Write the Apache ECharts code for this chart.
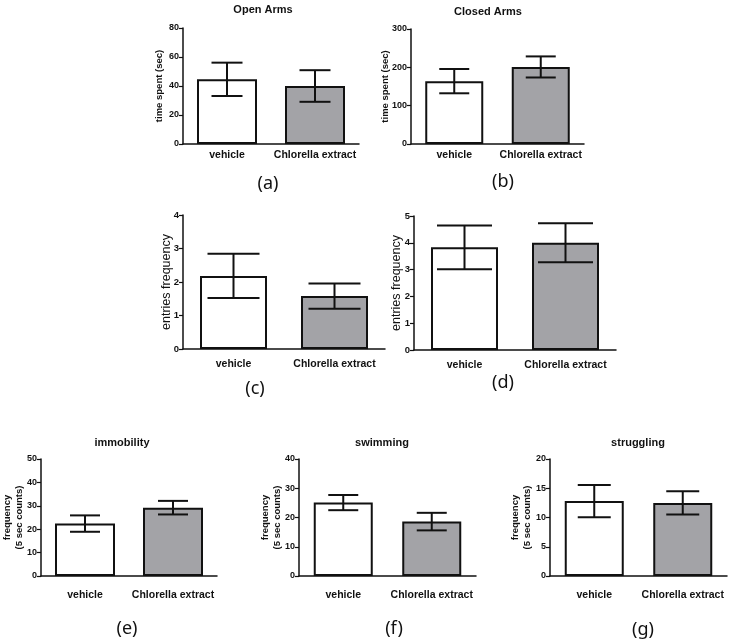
<!DOCTYPE html>
<html>
<head>
<meta charset="utf-8">
<script src="https://cdn.jsdelivr.net/npm/echarts@6/dist/echarts.min.js"></script>
<style>html,body{margin:0;padding:0;background:#fff}#c{width:733px;height:643px}</style>
</head>
<body>
<div id="c"></div>
<script>
const categories = ['vehicle', 'Chlorella extract'];

const openArmsMean = [44.6, 40.0];
const openArmsSem = [11.5, 10.9];
const openArmsTicks = [0, 20, 40, 60, 80];

const closedArmsMean = [164, 201];
const closedArmsSem = [31.7, 27.5];
const closedArmsTicks = [0, 100, 200, 300];

const openEntriesMean = [2.18, 1.58];
const openEntriesSem = [0.66, 0.375];
const openEntriesTicks = [0, 1, 2, 3, 4];

const closedEntriesMean = [3.83, 4.0];
const closedEntriesSem = [0.815, 0.73];
const closedEntriesTicks = [0, 1, 2, 3, 4, 5];

const immobilityMean = [22.4, 29.2];
const immobilitySem = [3.5, 2.9];
const immobilityTicks = [0, 10, 20, 30, 40, 50];

const swimmingMean = [25.1, 18.6];
const swimmingSem = [2.6, 3.0];
const swimmingTicks = [0, 10, 20, 30, 40];

const strugglingMean = [12.8, 12.5];
const strugglingSem = [2.75, 2.0];
const strugglingTicks = [0, 5, 10, 15, 20];

const barColors = ['#ffffff', '#a3a3a7'];

const panels = [
  {mean: openArmsMean, sem: openArmsSem, ticks: openArmsTicks, title: 'Open Arms', yName: 'time spent (sec)', label: '(a)',
   grid: {left: 183, top: 28, width: 176, height: 116}, barWidth: 60, cap: 31, titlePos: [263, 4], labelPos: [268, 175],
   nameGap: 18, nameSize: 9.5, nameWeight: 'bold', tickSize: 9, catMargin: 6},
  {mean: closedArmsMean, sem: closedArmsSem, ticks: closedArmsTicks, title: 'Closed Arms', yName: 'time spent (sec)', label: '(b)',
   grid: {left: 411, top: 29, width: 173, height: 115}, barWidth: 58, cap: 30, titlePos: [488, 6], labelPos: [503, 173],
   nameGap: 20, nameSize: 9.5, nameWeight: 'bold', tickSize: 9, catMargin: 6},
  {mean: openEntriesMean, sem: openEntriesSem, ticks: openEntriesTicks, title: '', yName: 'entries frequency', label: '(c)',
   grid: {left: 183, top: 215, width: 202, height: 134}, barWidth: 67, cap: 52, titlePos: null, labelPos: [255, 380],
   nameGap: 10, nameSize: 12.5, nameWeight: 'normal', tickSize: 9.5, catMargin: 10},
  {mean: closedEntriesMean, sem: closedEntriesSem, ticks: closedEntriesTicks, title: '', yName: 'entries frequency', label: '(d)',
   grid: {left: 414, top: 216, width: 202, height: 134}, barWidth: 67, cap: 55, titlePos: null, labelPos: [503, 374],
   nameGap: 11, nameSize: 12.5, nameWeight: 'normal', tickSize: 9.5, catMargin: 10},
  {mean: immobilityMean, sem: immobilitySem, ticks: immobilityTicks, title: 'immobility', yName: 'frequency\n(5 sec counts)', label: '(e)',
   grid: {left: 41, top: 459, width: 176, height: 117}, barWidth: 60, cap: 30, titlePos: [122, 437], labelPos: [127, 620],
   nameGap: 16, nameSize: 9.5, nameWeight: 'bold', tickSize: 9, catMargin: 14},
  {mean: swimmingMean, sem: swimmingSem, ticks: swimmingTicks, title: 'swimming', yName: 'frequency\n(5 sec counts)', label: '(f)',
   grid: {left: 299, top: 459, width: 177, height: 117}, barWidth: 59, cap: 30, titlePos: [382, 437], labelPos: [394, 620],
   nameGap: 16, nameSize: 9.5, nameWeight: 'bold', tickSize: 9, catMargin: 14},
  {mean: strugglingMean, sem: strugglingSem, ticks: strugglingTicks, title: 'struggling', yName: 'frequency\n(5 sec counts)', label: '(g)',
   grid: {left: 550, top: 459, width: 177, height: 117}, barWidth: 59, cap: 33, titlePos: [638, 437], labelPos: [643, 621],
   nameGap: 17, nameSize: 9.5, nameWeight: 'bold', tickSize: 9, catMargin: 14}
];

const FONT = '"Liberation Sans", Arial, sans-serif';
const grids = [], xAxes = [], yAxes = [], series = [], titles = [];

panels.forEach((p, i) => {
  grids.push(Object.assign({containLabel: false}, p.grid));
  xAxes.push({
    type: 'category', gridIndex: i, data: categories,
    axisLine: {lineStyle: {color: '#111', width: 1.5}},
    axisTick: {alignWithLabel: true, length: 4, lineStyle: {color: '#111', width: 1.2}},
    axisLabel: {interval: 0, margin: p.catMargin, color: '#111', fontFamily: FONT, fontWeight: 'bold', fontSize: 10.5}
  });
  const tks = p.ticks;
  yAxes.push({
    type: 'value', gridIndex: i, min: tks[0], max: tks[tks.length - 1], interval: tks[1] - tks[0],
    name: p.yName, nameLocation: 'middle', nameRotate: 90, nameGap: p.nameGap, nameMoveOverlap: false,
    nameTextStyle: {color: '#111', fontFamily: FONT, fontWeight: p.nameWeight, fontSize: p.nameSize, lineHeight: 12},
    axisLine: {show: true, lineStyle: {color: '#111', width: 1.5}},
    axisTick: {show: true, inside: false, length: 4, lineStyle: {color: '#111', width: 1.2}},
    axisLabel: {margin: 4, color: '#111', fontFamily: FONT, fontWeight: 'bold', fontSize: p.tickSize},
    splitLine: {show: false}
  });
  series.push({
    type: 'bar', xAxisIndex: i, yAxisIndex: i, barWidth: p.barWidth, silent: true,
    data: p.mean.map((v, k) => ({value: v, itemStyle: {color: barColors[k], borderColor: '#111', borderWidth: 2}}))
  });
  const cap = p.cap;
  series.push({
    type: 'custom', xAxisIndex: i, yAxisIndex: i, z: 5, silent: true,
    encode: {x: 0, y: 1},
    data: p.mean.map((v, k) => [k, v, p.sem[k]]),
    renderItem: function (params, api) {
      const x = api.value(0), m = api.value(1), e = api.value(2);
      const hi = api.coord([x, m + e]);
      const lo = api.coord([x, m - e]);
      const st = {stroke: '#111', lineWidth: 2};
      return {type: 'group', children: [
        {type: 'line', shape: {x1: hi[0], y1: hi[1], x2: lo[0], y2: lo[1]}, style: st},
        {type: 'line', shape: {x1: hi[0] - cap / 2, y1: hi[1], x2: hi[0] + cap / 2, y2: hi[1]}, style: st},
        {type: 'line', shape: {x1: lo[0] - cap / 2, y1: lo[1], x2: lo[0] + cap / 2, y2: lo[1]}, style: st}
      ]};
    }
  });
  if (p.titlePos) {
    titles.push({text: p.title, left: p.titlePos[0], top: p.titlePos[1], textAlign: 'center', padding: 0,
      textStyle: {color: '#111', fontFamily: FONT, fontWeight: 'bold', fontSize: 11}});
  }
  titles.push({text: p.label, left: p.labelPos[0], top: p.labelPos[1], textAlign: 'center', padding: 0,
    textStyle: {color: '#111', fontFamily: '"Noto Sans", sans-serif', fontWeight: 'normal', fontSize: 18}});
});

const chart = echarts.init(document.getElementById('c'), null, {renderer: 'canvas'});
chart.setOption({
  backgroundColor: '#ffffff',
  animation: false,
  title: titles,
  grid: grids,
  xAxis: xAxes,
  yAxis: yAxes,
  series: series
});
</script>
</body>
</html>
